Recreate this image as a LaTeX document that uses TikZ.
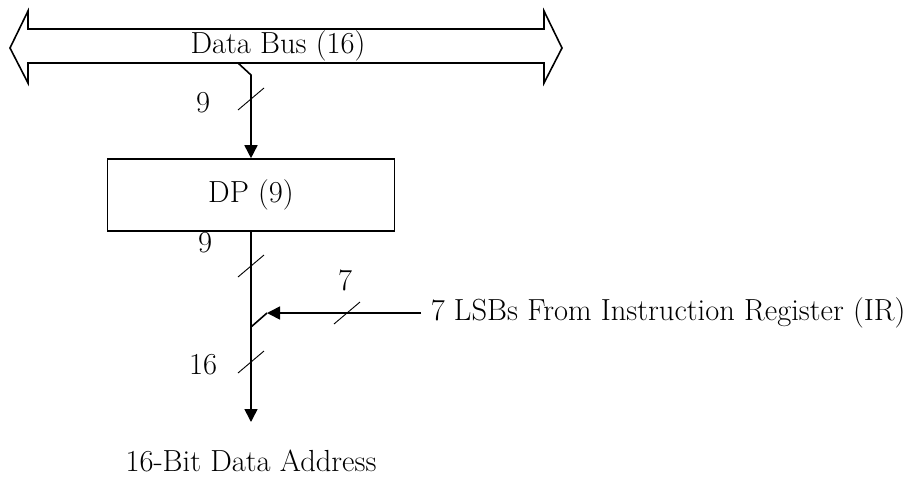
\documentclass[tikz,border=0pt]{standalone}
\usetikzlibrary{arrows.meta, positioning}
\usepackage{xcolor}
\def\busfont{\fontsize{30.5}{35}\selectfont}

\begin{document}
\begin{tikzpicture}[x=1pt, y=-1pt, line width=1.6pt, font=\busfont]
    \tikzstyle{sig}=[-{Triangle[length=13pt,width=13pt]}]
    \tikzstyle{reg}=[rectangle, draw=black, minimum width=287pt, minimum height=72pt, inner sep=0pt]
    \tikzstyle{slash}=[line width=0.9pt]
    \tikzstyle{lbl}=[inner sep=0pt]
    \useasboundingbox (0,0) rectangle (910,477);

    % the data bus as a double arrow
    \draw (10,48) -- (28,11) -- (28,29) -- (544,29) -- (544,11) -- (562,48)
          -- (544,83) -- (544,63) -- (28,63) -- (28,83) -- cycle;
    \node[lbl] (bus) at (278,46) {Data Bus (16)};

    % data page register
    \node[reg] (DP) at (251,195) {DP (9)};

    \coordinate (tap) at (238,63);
    \coordinate (drop) at (251,75);
    \coordinate (join) at (251,327);
    \coordinate (hit) at (267,313);
    \coordinate (out) at (251,422);

    \draw[sig] (tap) -- (drop) -- (DP.north);
    \draw (DP.south) -- (join);
    \draw[sig] (join) -- (out);

    \node[lbl, anchor=west] (IR) at (430,313) {7 LSBs From Instruction Register (IR)};
    \draw[sig, shorten <=9pt] (IR.west) -- (hit);
    \draw (hit) -- (join);

    \node[lbl] (addr) at (251,461) {16-Bit Data Address};

    % bus widths
    \foreach \cx / \cy in {251/99, 251/266, 251/362, 347/313}
        \draw[slash] (\cx-13,\cy+11) -- (\cx+13,\cy-11);

    \node[lbl] (w1) at (203,103) {9};
    \node[lbl] (w2) at (205,243) {9};
    \node[lbl] (w3) at (203,365) {16};
    \node[lbl] (w4) at (345,280) {7};
\end{tikzpicture}
\end{document}
